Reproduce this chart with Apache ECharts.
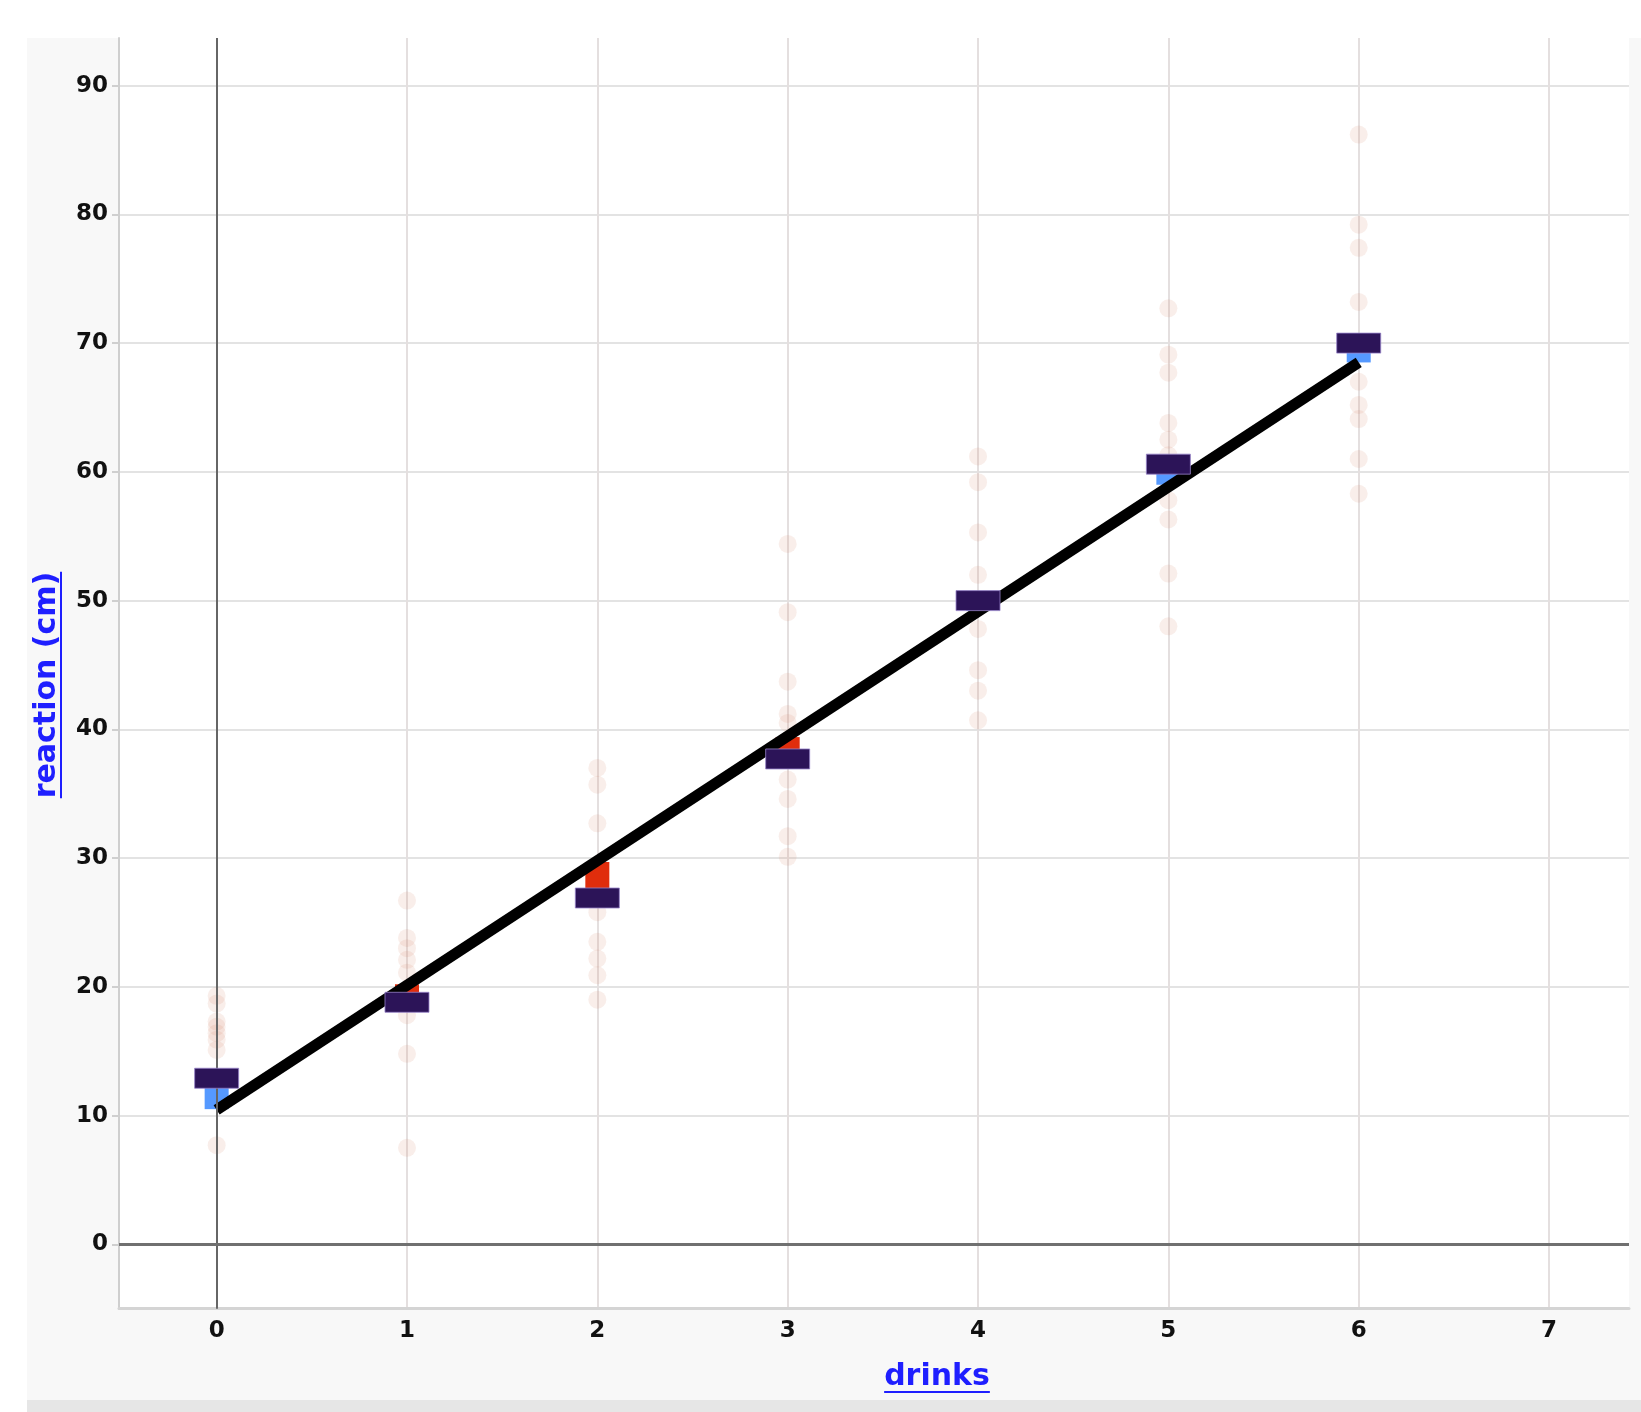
<!DOCTYPE html>
<html><head><meta charset="utf-8">
<script src="https://cdn.jsdelivr.net/npm/echarts@6/dist/echarts.min.js"></script>
<style>html,body{margin:0;padding:0;background:#fff}#c{width:1641px;height:1412px}</style>
</head><body><div id="c"></div>
<script>
// ---- data ----
const drinks = [0, 1, 2, 3, 4, 5, 6];
const xTicks = [0, 1, 2, 3, 4, 5, 6, 7];
const yTicks = [0, 10, 20, 30, 40, 50, 60, 70, 80, 90];

const dots0 = [19.3, 18.7, 17.3, 16.9, 16.4, 15.9, 15.1, 7.7];
const dots1 = [26.7, 23.8, 23.0, 22.1, 21.1, 17.8, 14.8, 7.5];
const dots2 = [37.0, 35.7, 32.7, 25.8, 23.5, 22.2, 20.9, 19.0];
const dots3 = [54.4, 49.1, 43.7, 41.2, 40.5, 36.1, 34.6, 31.7, 30.1];
const dots4 = [61.2, 59.2, 55.3, 52.0, 47.8, 44.6, 43.0, 40.7];
const dots5 = [72.7, 69.1, 67.7, 63.8, 62.5, 61.3, 57.8, 56.3, 52.1, 48.0];
const dots6 = [86.2, 79.2, 77.4, 73.2, 67.0, 65.2, 64.1, 61.0, 58.3];

const means = [12.9, 18.8, 26.9, 37.7, 50.0, 60.6, 70.0];
const fitted = [10.5, 20.2, 29.7, 39.4, 49.2, 59.0, 68.5];

const fitX = [0, 6];
const fitY = [10.45, 68.5];

// ---- build series data ----
const dotCols = [dots0, dots1, dots2, dots3, dots4, dots5, dots6];
const dotData = [];
dotCols.forEach((col, i) => col.forEach(v => dotData.push([drinks[i], v])));
const meanData = drinks.map((x, i) => [x, means[i]]);
const residData = drinks.map((x, i) => [x, means[i], fitted[i]]);
const fitData = fitX.map((x, i) => [x, fitY[i]]);

const FONT = '"DejaVu Sans", sans-serif';
const BLUE = '#1f1fff';
const titleFont = 'bold 30px "DejaVu Sans"';
const mctx = document.createElement('canvas').getContext('2d');
mctx.font = titleFont;
const wDrinks = mctx.measureText('drinks').width;
const wReact = mctx.measureText('reaction (cm)').width;

const chart = echarts.init(document.getElementById('c'), null, {renderer: 'canvas'});
chart.setOption({
  animation: false,
  backgroundColor: '#ffffff',
  grid: {
    left: 119, right: 12, top: 38, bottom: 103.3,
    show: true, backgroundColor: '#ffffff', borderWidth: 0,
    containLabel: false, outerBoundsMode: 'none'
  },
  graphic: [
    {type: 'rect', z: -10, silent: true, shape: {x: 27, y: 38, width: 1614, height: 1374}, style: {fill: '#f8f8f8'}},
    {type: 'rect', z: -9, silent: true, shape: {x: 27, y: 1400, width: 1614, height: 12}, style: {fill: '#e6e6e6'}},
    {type: 'text', x: 937, y: 1377, z: 10, silent: true,
      style: {text: 'drinks', font: titleFont, fill: BLUE, align: 'center', verticalAlign: 'middle'}},
    {type: 'rect', z: 10, silent: true, shape: {x: 937 - wDrinks / 2, y: 1391, width: wDrinks, height: 2}, style: {fill: BLUE}},
    {type: 'group', x: 47, y: 685, rotation: Math.PI / 2, z: 10, silent: true, children: [
      {type: 'text', x: 0, y: 0, style: {text: 'reaction (cm)', font: titleFont, fill: BLUE, align: 'center', verticalAlign: 'middle'}},
      {type: 'rect', shape: {x: -wReact / 2, y: 13, width: wReact, height: 2}, style: {fill: BLUE}}
    ]}
  ],
  xAxis: {
    type: 'value', min: -0.513, max: 7.42,
    axisLine: {show: true, onZero: false, lineStyle: {color: '#d4d4d4', width: 3}},
    axisTick: {show: false, customValues: xTicks},
    axisLabel: {customValues: xTicks, margin: 11, fontSize: 23, fontWeight: 'bold', color: '#111', fontFamily: FONT},
    splitLine: {show: true, lineStyle: {color: '#e4dfdf', width: 2}}
  },
  yAxis: {
    type: 'value', min: -5, max: 93.7,
    axisLine: {show: true, onZero: false, lineStyle: {color: '#cfcfcf', width: 2}},
    axisTick: {show: true, length: 7, customValues: yTicks, lineStyle: {color: '#cfcfcf', width: 2}},
    axisLabel: {customValues: yTicks, margin: 11, fontSize: 23, fontWeight: 'bold', color: '#111', fontFamily: FONT},
    splitLine: {show: true, lineStyle: {color: '#e3e3e3', width: 2}}
  },
  series: [
    {
      type: 'scatter', data: [], z: 1, silent: true,
      markLine: {
        silent: true, symbol: 'none', label: {show: false}, animation: false,
        data: [
          {xAxis: 0, lineStyle: {color: '#666666', width: 2, type: 'solid'}},
          {yAxis: 0, lineStyle: {color: '#707070', width: 3, type: 'solid'}}
        ]
      }
    },
    {
      type: 'scatter', data: dotData, z: 2, silent: true,
      symbol: 'circle', symbolSize: 18,
      itemStyle: {color: 'rgba(215,140,110,0.18)'}
    },
    {
      type: 'custom', data: residData, z: 3, silent: true,
      encode: {x: 0, y: [1, 2]},
      renderItem: (params, api) => {
        const x = api.value(0), m = api.value(1), f = api.value(2);
        const a = api.coord([x, m]), b = api.coord([x, f]);
        const top = Math.min(a[1], b[1]);
        const h = Math.abs(a[1] - b[1]);
        return {type: 'rect', shape: {x: a[0] - 12, y: top, width: 24, height: h},
          style: {fill: f > m ? '#e02d0c' : '#5599ff'}};
      }
    },
    {
      type: 'line', data: fitData, z: 4, silent: true,
      symbol: 'none', lineStyle: {color: '#000', width: 11, cap: 'butt'}
    },
    {
      type: 'custom', data: meanData, z: 5, silent: true,
      encode: {x: 0, y: 1},
      renderItem: (params, api) => {
        const p = api.coord([api.value(0), api.value(1)]);
        return {type: 'rect', shape: {x: p[0] - 22, y: p[1] - 10, width: 44, height: 20},
          style: {fill: '#2c1458', stroke: 'rgba(150,130,200,0.8)', lineWidth: 1}};
      }
    }
  ]
});
</script></body></html>
